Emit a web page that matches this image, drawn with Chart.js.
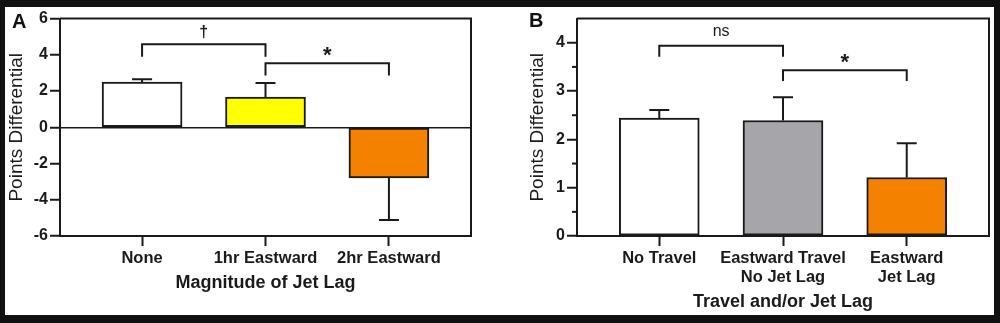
<!DOCTYPE html>
<html>
<head>
<meta charset="utf-8">
<script src="https://cdn.jsdelivr.net/npm/chart.js@4"></script>
<style>
  html, body { margin: 0; padding: 0; background: #111; }
  body { width: 1000px; height: 323px; position: relative; overflow: hidden; }
  #sheet { position: absolute; left: 5px; top: 7px; width: 989px; height: 308px; background: #fff; }
  canvas { position: absolute; top: 0; }
  #chartA { left: 0; }
  #chartB { left: 495px; }
  .panel { position: absolute; font: bold 20px "Liberation Sans", Arial, sans-serif; color: #111; line-height: 20px; }
</style>
</head>
<body>
<div id="sheet">
  <canvas id="chartA" width="495" height="308"></canvas>
  <canvas id="chartB" width="494" height="308"></canvas>
  <div class="panel" style="left:7px;top:4px">A</div>
  <div class="panel" style="left:524px;top:3px">B</div>
</div>
<script>
/* ===============================
   DATA
   =============================== */
const catsA = ["None", "1hr Eastward", "2hr Eastward"];
const meanA = [2.5, 1.67, -2.79];
const semA = [0.15, 0.77, 2.33];
const majorA = [-6, -4, -2, 0, 2, 4, 6];

const catsB = [["No Travel"], ["Eastward Travel", "No Jet Lag"], ["Eastward", "Jet Lag"]];
const meanB = [2.44, 2.39, 1.21];
const semB = [0.17, 0.48, 0.71];
const majorB = [0, 1, 2, 3, 4];

// significance brackets: category indexes, bar height and leg ends in data units
const bracketsA = [
  { from: 0, to: 1, y: 4.58, leg: 3.9, text: "\u2020" },
  { from: 1, to: 2, y: 3.54, leg: 2.86, text: "*" }
];
const bracketsB = [
  { from: 0, to: 1, y: 3.94, leg: 3.71, text: "ns" },
  { from: 1, to: 2, y: 3.43, leg: 3.21, text: "*" }
];

/* ===============================
   STYLE
   =============================== */
const FONT = '"Liberation Sans", Arial, sans-serif';
const INK = "#1a1a1a";
const fillA = ["#ffffff", "#ffff00", "#f58100"];
const fillB = ["#ffffff", "#a6a5aa", "#f58100"];

function labelStyle(text) {
  if (text === "*") return { font: "bold 22px " + FONT, lift: 1 };
  if (text === "ns") return { font: "16px " + FONT, lift: 10 };
  return { font: "bold 16px " + FONT, lift: 7 };
}

/* ===============================
   PLUGINS
   =============================== */
const framePlugin = {
  id: "frame",
  afterDatasetsDraw(chart, args, opts) {
    const { ctx, chartArea: a, scales } = chart;
    ctx.save();
    ctx.strokeStyle = INK;
    ctx.lineWidth = 2;
    ctx.beginPath();
    ctx.moveTo(a.left, a.top);
    ctx.lineTo(a.right, a.top);
    ctx.lineTo(a.right, a.bottom);
    ctx.stroke();

    // short minor ticks between the labelled ones
    const y = scales.y;
    y.ticks.forEach(t => {
      if (opts.major.includes(t.value) || t.value > opts.major[opts.major.length - 1]) return;
      const py = y.getPixelForValue(t.value);
      ctx.beginPath();
      ctx.moveTo(a.left - 5, py);
      ctx.lineTo(a.left, py);
      ctx.stroke();
    });
    ctx.restore();
  }
};

const errorPlugin = {
  id: "errors",
  afterDatasetsDraw(chart, args, opts) {
    const { ctx, scales: { x, y } } = chart;
    ctx.save();
    ctx.strokeStyle = INK;
    ctx.lineWidth = 2;

    opts.mean.forEach((m, i) => {
      const px = x.getPixelForValue(i + 1);
      const end = m >= 0 ? m + opts.sem[i] : m - opts.sem[i];
      const y0 = y.getPixelForValue(m);
      const y1 = y.getPixelForValue(end);
      ctx.beginPath();
      ctx.moveTo(px, y0);
      ctx.lineTo(px, y1);
      ctx.moveTo(px - 10, y1);
      ctx.lineTo(px + 10, y1);
      ctx.stroke();
    });

    opts.brackets.forEach(b => {
      const x0 = x.getPixelForValue(b.from + 1);
      const x1 = x.getPixelForValue(b.to + 1);
      const top = y.getPixelForValue(b.y);
      const leg = y.getPixelForValue(b.leg);
      ctx.beginPath();
      ctx.moveTo(x0, leg);
      ctx.lineTo(x0, top);
      ctx.lineTo(x1, top);
      ctx.lineTo(x1, leg);
      ctx.stroke();

      const st = labelStyle(b.text);
      ctx.font = st.font;
      ctx.fillStyle = INK;
      ctx.textAlign = "center";
      ctx.textBaseline = "alphabetic";
      ctx.fillText(b.text, (x0 + x1) / 2, top - st.lift);
    });
    ctx.restore();
  }
};

/* ===============================
   CHART BUILDER
   =============================== */
function makePanel(id, cfg) {
  const canvas = document.getElementById(id);
  return new Chart(canvas, {
    type: "bar",
    data: {
      datasets: [{
        data: cfg.mean.map((v, i) => ({ x: i + 1, y: v })),
        backgroundColor: cfg.fill,
        borderColor: INK,
        borderWidth: 2,
        borderSkipped: false,
        barThickness: 80
      }]
    },
    plugins: [framePlugin, errorPlugin],
    options: {
      responsive: false,
      animation: false,
      layout: { padding: { top: 11, right: cfg.padRight, left: 0, bottom: 0 } },
      plugins: {
        legend: { display: false },
        tooltip: { enabled: false },
        frame: { major: cfg.major },
        errors: { mean: cfg.mean, sem: cfg.sem, brackets: cfg.brackets }
      },
      scales: {
        x: {
          type: "linear",
          min: 0.335,
          max: 3.665,
          offset: false,
          afterBuildTicks: s => { s.ticks = cfg.cats.map((_, i) => ({ value: i + 1 })); },
          afterFit: s => { s.height = 79; },
          ticks: {
            callback: v => cfg.cats[v - 1],
            color: INK,
            font: { family: FONT, size: 16.5, weight: "bold", lineHeight: 1.15 },
            padding: 3,
            maxRotation: 0,
            autoSkip: false
          },
          grid: { offset: false, drawOnChartArea: false, tickLength: 10, tickWidth: 2, tickColor: INK },
          border: { display: true, color: INK, width: 2 },
          title: {
            display: true,
            text: cfg.xTitle,
            color: INK,
            font: { family: FONT, size: 18, weight: "bold", lineHeight: 1.2 },
            padding: { top: 0, bottom: cfg.xTitlePad }
          }
        },
        y: {
          min: cfg.major[0],
          max: cfg.yMax,
          afterFit: s => { s.width = cfg.yWidth; },
          ticks: {
            stepSize: cfg.step,
            callback: v => (cfg.major.includes(v) ? v : ""),
            color: INK,
            font: { family: FONT, size: 16, weight: "bold" },
            padding: 2
          },
          grid: {
            drawOnChartArea: cfg.zeroLine,
            color: c => (c.tick && c.tick.value === 0 ? INK : "rgba(0,0,0,0)"),
            lineWidth: 1.5,
            tickLength: 10,
            tickWidth: 2,
            tickColor: c => (c.tick && cfg.major.includes(c.tick.value) ? INK : "rgba(0,0,0,0)")
          },
          border: { display: true, color: INK, width: 2 },
          title: {
            display: true,
            text: "Points Differential",
            color: INK,
            font: { family: FONT, size: 19, weight: "normal", lineHeight: 1 },
            padding: { top: cfg.yTitlePad, bottom: 0 }
          }
        }
      }
    }
  });
}

makePanel("chartA", {
  cats: catsA, mean: meanA, sem: semA, major: majorA, brackets: bracketsA,
  fill: fillA, yMax: 6, step: 1, zeroLine: true,
  xTitle: "Magnitude of Jet Lag",
  padRight: 29, yWidth: 55, yTitlePad: 2, xTitlePad: 21
});

makePanel("chartB", {
  cats: catsB, mean: meanB, sem: semB, major: majorB, brackets: bracketsB,
  fill: fillB, yMax: 4.5, step: 0.5, zeroLine: false,
  xTitle: "Travel and/or Jet Lag",
  padRight: 5, yWidth: 77, yTitlePad: 28.5, xTitlePad: 2
});
</script>
</body>
</html>
